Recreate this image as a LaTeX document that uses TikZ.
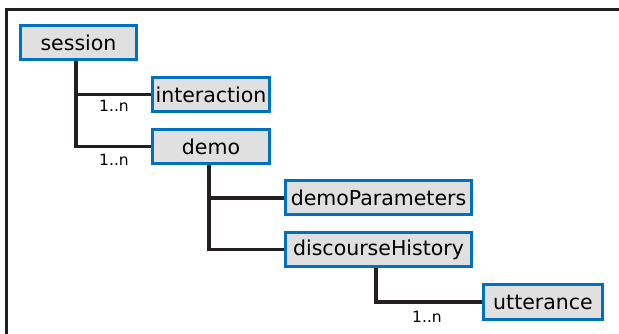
\documentclass[tikz,border=0pt]{standalone}
\usepackage{fontspec}
\setmainfont{DejaVu Sans}
\definecolor{boxblue}{RGB}{0,112,192}
\definecolor{boxfill}{RGB}{224,224,224}
\definecolor{linedark}{RGB}{35,31,32}
\begin{document}
\begin{tikzpicture}[x=1pt,y=-1pt,
  elem/.style={draw=boxblue,fill=boxfill,line width=3pt,inner sep=0pt,
    font=\fontsize{20.5}{23}\selectfont,text=black},
  conn/.style={draw=linedark,line width=3.3pt},
  card/.style={font=\fontsize{15.5}{17}\selectfont,text=black,inner sep=0pt}]
\useasboundingbox (0,0) rectangle (619,334);
\draw[linedark,line width=3pt] (6,334) -- (6,10) -- (619,10);
\node[elem,minimum width=116pt,minimum height=34pt] (session) at (78.5,42.5) {session};
\node[elem,minimum width=117pt,minimum height=34pt] (interaction) at (211,94.5) {interaction};
\node[elem,minimum width=117pt,minimum height=34pt] (demo) at (211,146.5) {demo};
\node[elem,minimum width=186pt,minimum height=34pt] (demoParameters) at (378.5,198) {demoParameters};
\node[elem,minimum width=186pt,minimum height=34pt] (discourseHistory) at (378.5,249.5) {discourseHistory};
\node[elem,minimum width=119pt,minimum height=35pt] (utterance) at (543,302) {utterance};
\draw[conn] ([xshift=-2.5pt]session.south) |- (interaction.west);
\draw[conn] ([xshift=-2.5pt]session.south) |- (demo.west);
\draw[conn] ([xshift=-2pt]demo.south) |- (demoParameters.west);
\draw[conn] ([xshift=-2pt]demo.south) |- (discourseHistory.west);
\draw[conn] ([xshift=-2.5pt]discourseHistory.south) |- (utterance.west);
\node[card] (c1) at (114,106) {1..n};
\node[card] (c2) at (114,160) {1..n};
\node[card] (c3) at (427,317) {1..n};
\end{tikzpicture}
\end{document}
